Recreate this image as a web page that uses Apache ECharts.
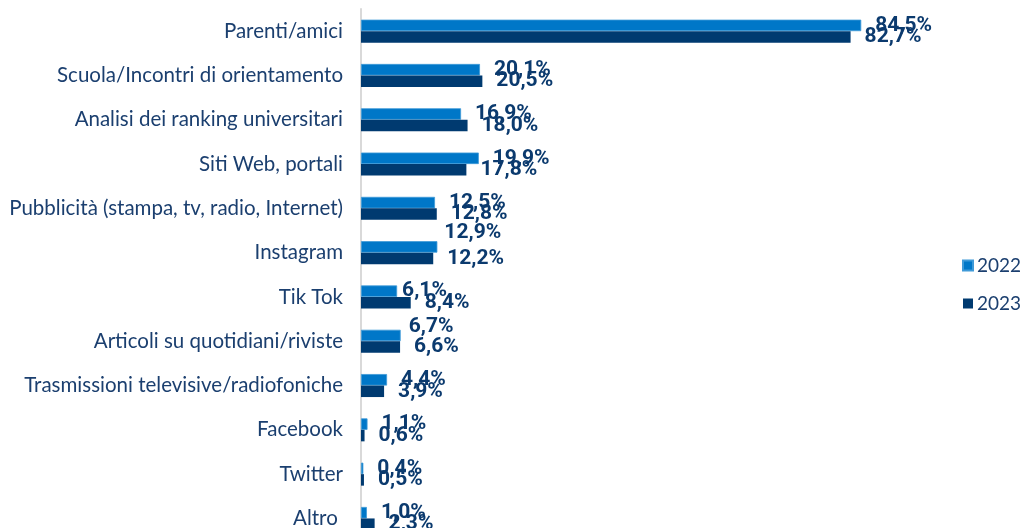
<!DOCTYPE html>
<html>
<head>
<meta charset="utf-8">
<script src="https://cdn.jsdelivr.net/npm/echarts@6/dist/echarts.min.js"></script>
<style>
html,body{margin:0;padding:0;background:#fff;}
#chart{width:1022px;height:528px;}
</style>
</head>
<body>
<div id="chart"></div>
<script>
const categories = [
  "Parenti/amici",
  "Scuola/Incontri di orientamento",
  "Analisi dei ranking universitari",
  "Siti Web, portali",
  "Pubblicità (stampa, tv, radio, Internet)",
  "Instagram",
  "Tik Tok",
  "Articoli su quotidiani/riviste",
  "Trasmissioni televisive/radiofoniche",
  "Facebook",
  "Twitter",
  "Altro "
];
const seriesNames = ["2022", "2023"];
const values2022 = [84.5, 20.1, 16.9, 19.9, 12.5, 12.9, 6.1, 6.7, 4.4, 1.1, 0.4, 1.0];
const values2023 = [82.7, 20.5, 18.0, 17.8, 12.8, 12.2, 8.4, 6.6, 3.9, 0.6, 0.5, 2.3];

// label nudges (style only): [dx, dy] per category index for 2022 series
const nudge2022 = {5: [-7, -14], 6: [-9, 0], 7: [-6, -9]};

const fmt = v => v.toFixed(1).replace('.', ',') + '%';
const labelStyle = {
  show: true,
  position: 'right',
  distance: 14,
  color: '#0b3a6e',
  fontFamily: 'Roboto',
  fontWeight: 'bold',
  fontSize: 21,
  formatter: p => fmt(p.value)
};

function buildData(vals, nudges) {
  return vals.map((v, i) => {
    const n = nudges && nudges[i];
    if (!n) return v;
    return {value: v, label: {offset: n}};
  });
}

const chart = echarts.init(document.getElementById('chart'));
chart.setOption({
  animation: false,
  grid: {left: 361, top: 9, width: 592, height: 531.6, containLabel: false, outerBoundsMode: 'none'},
  legend: {
    orient: 'vertical',
    left: 957,
    top: 251,
    itemWidth: 10,
    itemHeight: 10,
    itemGap: 19,
    icon: 'rect',
    textStyle: {color: '#1b3f6f', fontSize: 19, fontFamily: 'Lato', padding: [0, 0, 0, -1]},
    data: seriesNames
  },
  xAxis: {
    type: 'value', min: 0, max: 100,
    show: false
  },
  yAxis: {
    type: 'category',
    inverse: true,
    data: categories,
    axisLine: {show: true, lineStyle: {color: '#d9d9d9', width: 2}},
    axisTick: {show: false},
    axisLabel: {color: '#1b3f6f', fontSize: 20.5, fontFamily: 'Lato', margin: 18}
  },
  series: [
    {
      name: seriesNames[0], type: 'bar',
      data: buildData(values2022, nudge2022),
      barWidth: 11.5, barGap: '0%',
      itemStyle: {color: '#0077c8', borderColor: '#3f9ad8', borderWidth: 0.8},
      label: labelStyle
    },
    {
      name: seriesNames[1], type: 'bar',
      data: buildData(values2023, null),
      barWidth: 11.5, barGap: '0%',
      itemStyle: {color: '#003a70'},
      label: labelStyle
    }
  ]
});
</script>
</body>
</html>
